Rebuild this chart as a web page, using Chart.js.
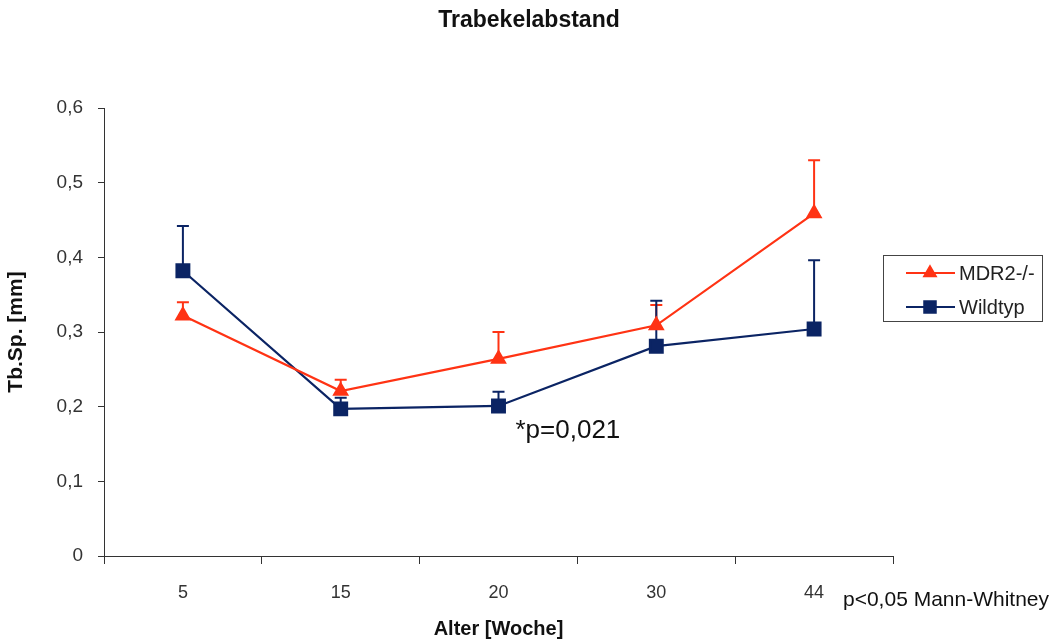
<!DOCTYPE html>
<html>
<head>
<meta charset="utf-8">
<script src="https://cdn.jsdelivr.net/npm/chart.js@4"></script>
<style>
    html, body { margin: 0; padding: 0; background: #fff; }
    #wrap { width: 1057px; height: 641px; }
</style>
</head>
<body>
<div id="wrap"><canvas id="chart" width="1057" height="641"></canvas></div>
<script>
// x categories (age in weeks)
var WEEKS = ["5", "15", "20", "30", "44"];
// mean values, Tb.Sp. in mm
var MDR2 = [0.322, 0.221, 0.264, 0.309, 0.459];
var WILDTYP = [0.382, 0.197, 0.201, 0.281, 0.304];
// upper end of the error bars
var MDR2_ERR = [0.340, 0.236, 0.300, 0.336, 0.530];
var WILDTYP_ERR = [0.442, 0.212, 0.220, 0.342, 0.396];
// y ticks
var Y_TICKS = [0, 0.1, 0.2, 0.3, 0.4, 0.5, 0.6];

const RED = "#ff3314";
const NAVY = "#0b2464";
const FONT = "'Liberation Sans', Arial, sans-serif";

function fmt(v) {
    // german decimal comma
    return v == 0 ? "0" : v.toFixed(1).replace(".", ",");
}

// draws the upward error bars from the mean to the upper value
var errorBars = {
    id: "errorBars",
    beforeDatasetsDraw: function (chart) {
        var ctx = chart.ctx;
        var x = chart.scales.x, y = chart.scales.y;
        var sets = [[MDR2, MDR2_ERR, RED], [WILDTYP, WILDTYP_ERR, NAVY]];
        ctx.save();
        ctx.lineWidth = 2;
        sets.forEach(function (s) {
            ctx.strokeStyle = s[2];
            for (var i = 0; i < s[0].length; i++) {
                var px = x.getPixelForValue(i);
                var y0 = y.getPixelForValue(s[0][i]);
                var y1 = y.getPixelForValue(s[1][i]);
                ctx.beginPath();
                ctx.moveTo(px, y0);
                ctx.lineTo(px, y1);
                ctx.moveTo(px - 6, y1);
                ctx.lineTo(px + 6, y1);
                ctx.stroke();
            }
        });
        ctx.restore();
    }
};

// title, legend box on the right and the two text notes
var extras = {
    id: "extras",
    afterDraw: function (chart) {
        var ctx = chart.ctx;
        var x = chart.scales.x, y = chart.scales.y;
        ctx.save();

        ctx.fillStyle = "#111";
        ctx.font = "bold 23px " + FONT;
        ctx.textAlign = "center";
        ctx.textBaseline = "alphabetic";
        ctx.fillText("Trabekelabstand", 529, 27);

        // legend
        ctx.fillStyle = "#fff";
        ctx.fillRect(883.5, 255.5, 159, 66);
        ctx.strokeStyle = "#444";
        ctx.lineWidth = 1;
        ctx.strokeRect(883.5, 255.5, 159, 66);
        var items = [["MDR2-/-", RED, "triangle", 273], ["Wildtyp", NAVY, "rect", 307]];
        items.forEach(function (it) {
            ctx.strokeStyle = it[1];
            ctx.fillStyle = it[1];
            ctx.lineWidth = 2.2;
            ctx.beginPath();
            ctx.moveTo(906, it[3]);
            ctx.lineTo(955, it[3]);
            ctx.stroke();
            Chart.helpers.drawPoint(ctx, { pointStyle: it[2], radius: it[2] == "rect" ? 8 : 6.5, rotation: 0, borderWidth: 1 }, 930, it[3]);
            ctx.fillStyle = "#222";
            ctx.font = "20px " + FONT;
            ctx.textAlign = "left";
            ctx.textBaseline = "middle";
            ctx.fillText(it[0], 959, it[3] + 1);
        });

        // significance note next to week 20
        ctx.fillStyle = "#111";
        ctx.font = "26px " + FONT;
        ctx.textAlign = "left";
        ctx.textBaseline = "alphabetic";
        ctx.fillText("*p=0,021", x.getPixelForValue(2) + 17, y.getPixelForValue(WILDTYP[2]) + 32);

        ctx.font = "21px " + FONT;
        ctx.textBaseline = "middle";
        ctx.fillText("p<0,05 Mann-Whitney", 843, 600);
        ctx.restore();
    }
};

var chart = new Chart(document.getElementById("chart"), {
    type: "line",
    data: {
        labels: WEEKS,
        datasets: [{
            label: "MDR2-/-",
            data: MDR2,
            borderColor: RED,
            backgroundColor: RED,
            borderWidth: 2.2,
            pointStyle: "triangle",
            pointRadius: 7.5,
            pointHoverRadius: 7.5,
            tension: 0
        }, {
            label: "Wildtyp",
            data: WILDTYP,
            borderColor: NAVY,
            backgroundColor: NAVY,
            borderWidth: 2.2,
            pointStyle: "rect",
            pointRadius: 9,
            pointHoverRadius: 9,
            tension: 0
        }]
    },
    options: {
        responsive: false,
        animation: false,
        layout: { padding: { left: 0, right: 164, top: 108, bottom: 0 } },
        plugins: {
            legend: { display: false },
            tooltip: { enabled: false },
            title: { display: false }
        },
        scales: {
            x: {
                offset: true,
                grid: { offset: true, drawOnChartArea: false, tickLength: 8, color: "#333" },
                border: { color: "#333", width: 1 },
                ticks: { color: "#333", font: { family: FONT, size: 18 }, padding: 18 },
                title: {
                    display: true,
                    text: "Alter [Woche]",
                    color: "#111",
                    font: { family: FONT, size: 20, weight: "bold" },
                    padding: { top: 5, bottom: 0 }
                },
                afterFit: function (s) { s.height = 85; }
            },
            y: {
                min: 0,
                max: 0.6,
                afterBuildTicks: function (s) { s.ticks = Y_TICKS.map(function (v) { return { value: v }; }); },
                grid: { drawOnChartArea: false, tickLength: 6, color: "#333" },
                border: { color: "#333", width: 1 },
                ticks: {
                    color: "#333",
                    font: { family: FONT, size: 19 },
                    padding: 15,
                    callback: function (v) { return fmt(v); }
                },
                title: {
                    display: true,
                    text: "Tb.Sp. [mm]",
                    color: "#111",
                    font: { family: FONT, size: 21, weight: "bold" },
                    padding: { top: 4, bottom: 0 }
                },
                afterFit: function (s) { s.width = 104; }
            }
        }
    },
    plugins: [errorBars, extras]
});
</script>
</body>
</html>
